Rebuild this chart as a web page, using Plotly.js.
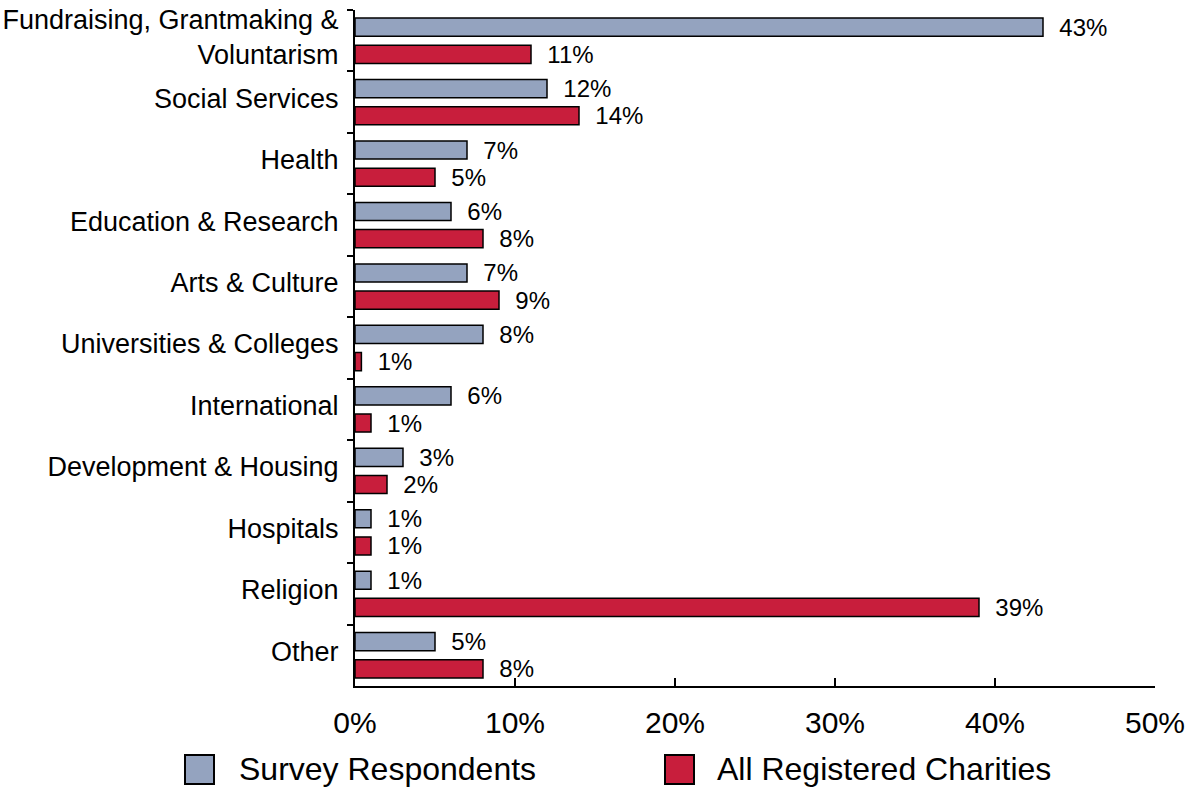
<!DOCTYPE html>
<html>
<head>
<meta charset="utf-8">
<script src="https://cdn.plot.ly/plotly-3.0.1.min.js"></script>
<style>html,body{margin:0;padding:0;background:#fff;}#chart{width:1199px;height:789px;}</style>
</head>
<body>
<div id="chart"></div>
<script>
var categories = ["Fundraising, Grantmaking &<br>Voluntarism", "Social Services", "Health", "Education & Research", "Arts & Culture", "Universities & Colleges", "International", "Development & Housing", "Hospitals", "Religion", "Other"];
var seriesNames = ["Survey Respondents", "All Registered Charities"];
var surveyValues = [43, 12, 7, 6, 7, 8, 6, 3, 1, 1, 5];
var surveyLabels = ["43%", "12%", "7%", "6%", "7%", "8%", "6%", "3%", "1%", "1%", "5%"];
var charityValues = [11, 14, 5, 8, 9, 0.4, 1, 2, 1, 39, 8];
var charityLabels = ["11%", "14%", "5%", "8%", "9%", "1%", "1%", "2%", "1%", "39%", "8%"];
var xTickValues = [0, 10, 20, 30, 40, 50];
var xTickLabels = ["0%", "10%", "20%", "30%", "40%", "50%"];

var colors = ["#94A3BF", "#C81E3C"];
var FONT = "Liberation Sans, Arial, sans-serif";
function pad(arr){ return arr.map(function(s){ return "\u00a0\u00a0" + s; }); }

var traces = [
  {type: "bar", orientation: "h", name: seriesNames[0], y: categories, x: surveyValues,
   text: pad(surveyLabels), textposition: "outside", cliponaxis: false, constraintext: "none",
   textfont: {size: 24, color: "#000", family: FONT},
   marker: {color: colors[0], line: {color: "#000", width: 1.5}}, hoverinfo: "x+y"},
  {type: "bar", orientation: "h", name: seriesNames[1], y: categories, x: charityValues,
   text: pad(charityLabels), textposition: "outside", cliponaxis: false, constraintext: "none",
   textfont: {size: 24, color: "#000", family: FONT},
   marker: {color: colors[1], line: {color: "#000", width: 1.5}}, hoverinfo: "x+y"}
];

var legendShapes = [];
var legendAnn = [];
var legX = [-0.2125, 0.3875];
var txtX = [-0.1475, 0.4500];
for (var i = 0; i < 2; i++) {
  legendShapes.push({type: "rect", xref: "paper", yref: "paper",
    x0: legX[i], x1: legX[i] + 0.03625, y0: -0.1021, y1: -0.145,
    fillcolor: colors[i], line: {color: "#000", width: 2}});
  legendAnn.push({xref: "paper", yref: "paper", x: txtX[i], y: -0.1235,
    xanchor: "left", yanchor: "middle", showarrow: false, text: seriesNames[i],
    font: {size: 32, color: "#000", family: FONT}});
}

var layout = {
  width: 1199, height: 789,
  margin: {l: 355, r: 44, t: 10, b: 103},
  paper_bgcolor: "#fff", plot_bgcolor: "#fff",
  font: {family: FONT, color: "#000"},
  barmode: "group", bargap: 0.115, bargroupgap: 0.333,
  showlegend: false,
  xaxis: {range: [0, 50], tickvals: xTickValues, ticktext: xTickLabels,
    ticks: "inside", ticklen: 8, tickwidth: 2, tickcolor: "#000",
    showline: true, linewidth: 2, linecolor: "#000",
    showgrid: false, zeroline: false, tickfont: {size: 30, family: FONT},
    ticklabelstandoff: 9, fixedrange: true},
  yaxis: {type: "category", autorange: "reversed", tickson: "boundaries",
    ticks: "outside", ticklen: 6, tickwidth: 2, tickcolor: "#000",
    showline: true, linewidth: 2, linecolor: "#000",
    showgrid: false, zeroline: false, tickfont: {size: 27, family: FONT},
    ticklabelstandoff: 9, ticklabelshift: 4, fixedrange: true},
  shapes: legendShapes,
  annotations: legendAnn
};

Plotly.newPlot("chart", traces, layout, {displayModeBar: false, staticPlot: true});
</script>
</body>
</html>
